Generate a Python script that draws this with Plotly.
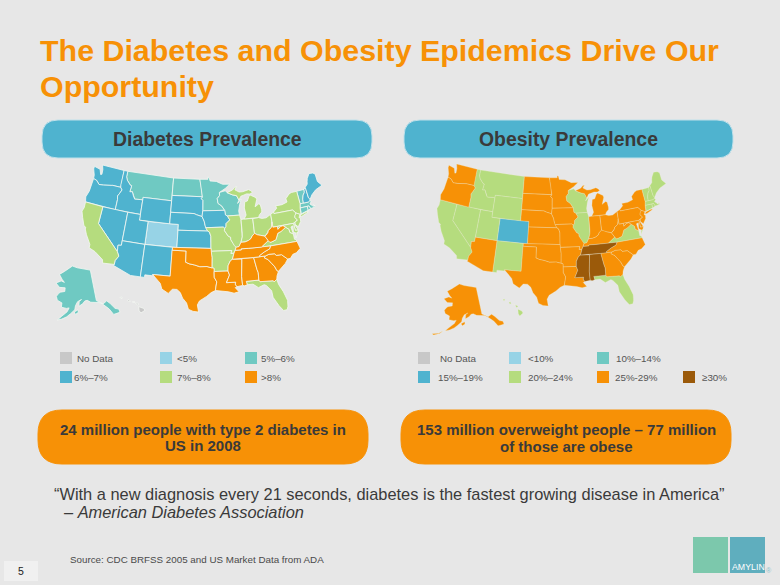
import math
import plotly.graph_objects as go

# ---------- data ----------
TITLE = ["The Diabetes and Obesity Epidemics Drive Our", "Opportunity"]
DIABETES_HEADER = "Diabetes Prevalence"
OBESITY_HEADER = "Obesity Prevalence"
DIABETES_NOTE = ["24 million people with type 2 diabetes in", "US in 2008"]
OBESITY_NOTE = ["153 million overweight people – 77 million", "of those are obese"]
QUOTE_1 = "“With a new diagnosis every 21 seconds, diabetes is the fastest growing disease in America”"
QUOTE_2 = "– <i>American Diabetes Association</i>"
SOURCE = "Source: CDC BRFSS 2005 and US Market Data from ADA"

diabetes_classes = ["No Data", "<5%", "5%–6%", "6%–7%", "7%–8%", ">8%"]
obesity_classes = ["No Data", "<10%", "10%–14%", "15%–19%", "20%–24%", "25%-29%", "≥30%"]

diabetes_states = {
    "No Data": ["HI"],
    "<5%": ["CO"],
    "5%–6%": ["MT", "ND", "MN", "WI", "AK", "VT", "MA", "RI", "CT"],
    "6%–7%": ["WA", "OR", "ID", "WY", "SD", "NE", "IA", "KS", "NV", "UT", "AZ", "NM", "NH", "ME"],
    "7%–8%": ["CA", "MO", "AR", "IL", "IN", "OH", "MI", "NY", "PA", "NJ", "DE", "MD", "VA", "FL"],
    ">8%": ["TX", "OK", "LA", "MS", "AL", "GA", "SC", "NC", "TN", "KY", "WV"],
}
obesity_states = {
    "15%–19%": ["CO"],
    "20%–24%": ["ID", "MT", "WY", "NV", "UT", "CA", "NM", "WI", "IL", "VA", "FL",
                "VT", "NH", "ME", "MA", "CT", "RI", "HI"],
    "25%-29%": ["WA", "OR", "AZ", "ND", "SD", "NE", "KS", "MN", "IA", "MO", "AR", "LA", "OK", "TX",
                "MI", "IN", "OH", "KY", "WV", "GA", "SC", "NC", "NY", "PA", "NJ", "DE", "MD", "AK"],
    "≥30%": ["MS", "AL", "TN"],
}

# state outlines, lon/lat rings
WA = [[(-124.7,48.38),(-123.1,48.15),(-122.6,47.3),(-122.3,47.4),(-122.4,48.2),(-122.8,49),(-117.03,49),(-117.04,46.42),(-116.92,45.99),(-118.98,46),(-119.3,45.93),(-121.2,45.65),(-122.3,45.55),(-122.8,45.9),(-123.2,46.15),(-124,46.27),(-124.1,46.9),(-124.7,47.9)]]
OR = [[(-124,46.27),(-123.2,46.15),(-122.8,45.9),(-122.3,45.55),(-121.2,45.65),(-119.3,45.93),(-118.98,46),(-116.92,45.99),(-116.47,45.6),(-116.85,44.95),(-117.22,44.4),(-117.03,43.8),(-117.03,42),(-124.2,42),(-124.5,42.85),(-124.1,44),(-123.95,45.5)]]
CA = [[(-124.2,42),(-120,42),(-120,39),(-114.63,35),(-114.13,34.27),(-114.72,33.4),(-114.72,32.72),(-117.12,32.53),(-117.3,33.1),(-118.4,33.75),(-119.2,34.15),(-120.6,34.55),(-120.65,35.15),(-121.9,36.6),(-122.5,37.5),(-122.5,37.8),(-123,38),(-123.8,39.3),(-124.35,40.3),(-124.1,41)]]
NV = [[(-120,42),(-114.04,42),(-114.04,36.2),(-114.75,36.1),(-114.63,35),(-120,39)]]
ID = [[(-117.03,49),(-116.05,49),(-116.05,48),(-115.7,47.45),(-114.7,46.7),(-114.35,46.65),(-114.5,45.55),(-113.9,45.65),(-113.45,44.95),(-113,44.45),(-111.5,44.55),(-111.05,44.5),(-111.05,42),(-117.03,42),(-117.03,43.8),(-117.22,44.4),(-116.85,44.95),(-116.47,45.6),(-116.92,45.99),(-117.04,46.42)]]
MT = [[(-116.05,49),(-104.05,49),(-104.05,45),(-111.05,45),(-111.05,44.5),(-111.5,44.55),(-113,44.45),(-113.45,44.95),(-113.9,45.65),(-114.5,45.55),(-114.35,46.65),(-114.7,46.7),(-115.7,47.45),(-116.05,48)]]
WY = [[(-111.05,45),(-104.05,45),(-104.05,41),(-111.05,41)]]
UT = [[(-114.04,42),(-111.05,42),(-111.05,41),(-109.05,41),(-109.05,37),(-114.04,37)]]
CO = [[(-109.05,41),(-102.05,41),(-102.05,37),(-109.05,37)]]
AZ = [[(-114.04,37),(-109.05,37),(-109.05,31.33),(-111.07,31.33),(-114.8,32.5),(-114.72,32.72),(-114.72,33.4),(-114.13,34.27),(-114.63,35),(-114.75,36.1),(-114.04,36.2)]]
NM = [[(-109.05,37),(-103,37),(-103.04,32),(-106.62,32),(-106.53,31.78),(-108.2,31.78),(-108.2,31.33),(-109.05,31.33)]]
ND = [[(-104.05,49),(-97.23,49),(-96.85,47.6),(-96.56,45.94),(-104.05,45.94)]]
SD = [[(-104.05,45.94),(-96.56,45.94),(-96.85,45.6),(-96.45,45.3),(-96.45,43.5),(-96.6,42.5),(-97.9,42.8),(-98.5,43),(-104.05,43)]]
NE = [[(-104.05,43),(-98.5,43),(-97.9,42.8),(-96.6,42.5),(-96.1,41.7),(-95.9,41),(-95.31,40),(-102.05,40),(-102.05,41),(-104.05,41)]]
KS = [[(-102.05,40),(-95.31,40),(-94.9,39.8),(-94.61,39.1),(-94.62,37),(-102.05,37)]]
OK = [[(-103,37),(-94.62,37),(-94.43,35.4),(-94.48,33.64),(-95.5,33.88),(-97,33.85),(-98.1,34.13),(-99.2,34.3),(-100,34.56),(-100,36.5),(-103,36.5)]]
TX = [[(-103.04,36.5),(-100,36.5),(-100,34.56),(-99.2,34.3),(-98.1,34.13),(-97,33.85),(-95.5,33.88),(-94.48,33.64),(-94.04,33.55),(-94.04,31.99),(-93.55,31.2),(-93.75,30.3),(-93.85,29.7),(-94.7,29.35),(-95.6,28.7),(-97,27.9),(-97.4,27.2),(-97.15,25.96),(-98.2,26.05),(-99.1,26.4),(-99.5,27.5),(-100.3,28.3),(-100.8,29.25),(-101.5,29.77),(-102.4,29.77),(-103.15,28.98),(-104.5,29.65),(-104.9,30.6),(-106.53,31.78),(-106.62,32),(-103.04,32)]]
MN = [[(-97.23,49),(-95.15,49),(-95.15,49.38),(-94.8,49.3),(-94.6,48.7),(-93,48.6),(-91.4,48.05),(-89.6,48),(-90.8,47.3),(-92,46.7),(-92.3,46.65),(-92.3,46.1),(-92.9,45.6),(-92.75,44.75),(-91.9,44.3),(-91.22,43.5),(-96.45,43.5),(-96.45,45.3),(-96.85,45.6),(-96.56,45.94),(-96.85,47.6)]]
IA = [[(-96.45,43.5),(-91.22,43.5),(-91.1,42.7),(-90.65,42.5),(-90.15,41.8),(-91.05,41.2),(-91.1,40.7),(-91.42,40.38),(-91.73,40.61),(-95.77,40.58),(-95.9,41),(-96.1,41.7),(-96.6,42.5)]]
MO = [[(-95.77,40.58),(-91.73,40.61),(-91.42,40.38),(-91.5,40),(-90.7,39),(-90.2,38.8),(-90.2,38.4),(-89.5,37.3),(-89.15,37),(-89.4,36.5),(-89.7,36),(-90.37,36),(-90.15,36.5),(-94.62,36.5),(-94.62,37),(-94.61,39.1),(-94.9,39.8),(-95.31,40)]]
AR = [[(-94.62,36.5),(-90.15,36.5),(-90.37,36),(-89.7,36),(-90.1,35),(-90.6,34.7),(-91.1,33.9),(-91.17,33),(-94.04,33),(-94.04,33.55),(-94.48,33.64),(-94.43,35.4)]]
LA = [[(-94.04,33),(-91.17,33),(-90.9,32.3),(-91.6,31),(-89.73,31),(-89.85,30.65),(-89.55,30.2),(-89.9,30.05),(-89.2,29.3),(-90.2,29.1),(-91.3,29.4),(-92.3,29.55),(-93.85,29.7),(-93.75,30.3),(-93.55,31.2),(-94.04,31.99)]]
MS = [[(-90.1,35),(-88.2,35),(-88.1,34.9),(-88.45,31.9),(-88.4,30.35),(-89.55,30.2),(-89.85,30.65),(-89.73,31),(-91.6,31),(-90.9,32.3),(-91.17,33),(-91.1,33.9),(-90.6,34.7)]]
AL = [[(-88.2,35),(-85.6,34.98),(-85.18,32.87),(-85,32.3),(-85.05,31),(-87.6,31),(-87.45,30.4),(-88,30.25),(-88.4,30.35),(-88.45,31.9),(-88.1,34.9)]]
TN = [[(-89.7,36),(-89.4,36.5),(-88.07,36.5),(-88.07,36.68),(-86.5,36.65),(-83.68,36.6),(-81.68,36.59),(-82,36.1),(-83.1,35.75),(-84.3,35.2),(-84.32,34.99),(-85.6,34.98),(-88.2,35),(-90.1,35)]]
KY = [[(-89.4,36.5),(-89.15,37),(-88.5,37.1),(-88,37.8),(-87.1,37.8),(-86.3,38),(-85.7,38.3),(-85.4,38.7),(-84.8,39.1),(-84.2,38.8),(-83.6,38.65),(-82.6,38.4),(-82,37.55),(-83.68,36.6),(-86.5,36.65),(-88.07,36.68),(-88.07,36.5)]]
WV = [[(-82.6,38.4),(-82.2,38.6),(-81.75,39),(-81.7,39.25),(-80.87,39.7),(-80.52,40.64),(-80.52,39.72),(-79.48,39.72),(-79.48,39.2),(-78.8,39.6),(-78.2,39.68),(-77.72,39.32),(-78.35,39),(-78.87,38.76),(-79.65,38.55),(-80.3,37.5),(-81.25,37.25),(-81.68,37.2),(-82,37.55)]]
VA = [[(-83.68,36.6),(-81.68,36.59),(-75.87,36.55),(-76,36.9),(-76.3,37),(-76.3,37.9),(-77,38.3),(-77.05,38.85),(-77.72,39.32),(-78.35,39),(-78.87,38.76),(-79.65,38.55),(-80.3,37.5),(-81.25,37.25),(-81.68,37.2),(-82,37.55)],
      [(-75.65,37.95),(-75.25,38.03),(-75.95,37.15)]]
NC = [[(-84.32,34.99),(-83.1,35),(-82.3,35.2),(-81.05,35.15),(-80.8,34.82),(-79.67,34.8),(-78.55,33.87),(-77.95,33.9),(-77.3,34.5),(-76.5,34.65),(-75.5,35.25),(-75.87,36.55),(-81.68,36.59),(-82,36.1),(-83.1,35.75),(-84.3,35.2)]]
SC = [[(-83.1,35),(-82.3,35.2),(-81.05,35.15),(-80.8,34.82),(-79.67,34.8),(-78.55,33.87),(-79.2,33.2),(-80,32.6),(-80.85,32.05),(-81.15,32.2),(-81.5,33),(-81.95,33.5),(-82.6,34.3),(-83.35,34.7)]]
GA = [[(-85.6,34.98),(-84.32,34.99),(-83.1,35),(-83.35,34.7),(-82.6,34.3),(-81.95,33.5),(-81.5,33),(-81.15,32.2),(-80.85,32.05),(-81.3,31.3),(-81.45,30.72),(-82.05,30.36),(-82.2,30.57),(-84.86,30.7),(-85.05,31),(-85,32.3),(-85.18,32.87)]]
FL = [[(-87.6,31),(-85.05,31),(-84.86,30.7),(-82.2,30.57),(-82.05,30.36),(-81.45,30.72),(-81.25,29.8),(-80.55,28.4),(-80.03,26.8),(-80.15,25.75),(-80.4,25.2),(-81.1,25.15),(-81.8,26.1),(-82.7,27.7),(-82.8,28.9),(-83.7,29.9),(-84.1,30.1),(-85.3,29.7),(-86.3,30.4),(-87.45,30.4)]]
IL = [[(-91.42,40.38),(-91.1,40.7),(-91.05,41.2),(-90.15,41.8),(-90.65,42.5),(-87.8,42.5),(-87.55,41.75),(-87.53,39.35),(-87.6,38.7),(-88,37.8),(-88.5,37.1),(-89.15,37),(-89.5,37.3),(-90.2,38.4),(-90.2,38.8),(-90.7,39),(-91.5,40)]]
WI = [[(-92.3,46.65),(-92,46.7),(-90.8,46.9),(-90.4,46.55),(-89.1,46.1),(-88.1,45.9),(-87.8,45.35),(-87.6,45.1),(-88,44.55),(-87.05,45.25),(-87.55,44.3),(-87.9,43.2),(-87.8,42.5),(-90.65,42.5),(-91.1,42.7),(-91.22,43.5),(-91.9,44.3),(-92.75,44.75),(-92.9,45.6),(-92.3,46.1)]]
IN = [[(-87.53,41.72),(-86.8,41.76),(-84.8,41.7),(-84.8,39.1),(-85.4,38.7),(-85.7,38.3),(-86.3,38),(-87.1,37.8),(-88,37.8),(-87.6,38.7),(-87.53,39.35)]]
OH = [[(-84.8,41.7),(-83.45,41.73),(-82.7,41.5),(-81.7,41.5),(-80.52,41.98),(-80.52,40.64),(-80.87,39.7),(-81.7,39.25),(-81.75,39),(-82.2,38.6),(-82.6,38.4),(-83.6,38.65),(-84.2,38.8),(-84.8,39.1)]]
MI = [[(-86.8,41.76),(-84.8,41.7),(-83.45,41.73),(-83.1,42.2),(-82.5,42.6),(-82.45,43),(-82.6,43.9),(-82.95,44.07),(-83.9,43.65),(-83.3,44.85),(-83.4,45.2),(-84.75,45.78),(-85.1,45.55),(-85.6,44.8),(-86.25,44.7),(-86.5,43.65),(-86.25,42.4)],
      [(-90.4,46.55),(-89,46.95),(-88.4,47.35),(-87.9,47.47),(-88.4,46.95),(-87.4,46.5),(-86.5,46.5),(-85,46.75),(-84.4,46.5),(-84.1,46.2),(-84.75,45.95),(-85.6,46.05),(-86.5,45.85),(-87.05,45.75),(-87.6,45.1),(-87.8,45.35),(-88.1,45.9),(-89.1,46.1)]]
PA = [[(-80.52,41.98),(-79.76,42.27),(-79.76,42),(-75.35,42),(-74.7,41.36),(-75.1,40.95),(-75.2,40.65),(-74.72,40.15),(-75.42,39.8),(-75.79,39.72),(-80.52,39.72),(-80.52,40.64)]]
NY = [[(-79.76,42.27),(-78.9,42.85),(-79.05,43.27),(-77.5,43.27),(-76.2,43.55),(-76.3,44.15),(-75.3,44.85),(-74.7,45),(-73.35,45),(-73.25,43.6),(-73.27,42.75),(-73.5,42.05),(-73.5,41.3),(-73.65,41),(-73.9,41),(-74.7,41.36),(-75.35,42),(-79.76,42)],
      [(-74,40.6),(-73.7,40.9),(-72.3,41.15),(-71.9,41.05),(-73.5,40.6)]]
NJ = [[(-74.7,41.36),(-73.9,41),(-74.25,40.45),(-73.98,40.4),(-74.1,39.75),(-74.9,38.95),(-75.5,39.5),(-75.42,39.8),(-74.72,40.15),(-75.2,40.65),(-75.1,40.95)]]
DE = [[(-75.79,39.72),(-75.42,39.8),(-75.55,39.4),(-75.05,38.45),(-75.7,38.45)]]
MD = [[(-79.48,39.72),(-75.79,39.72),(-75.7,38.45),(-75.05,38.45),(-75.25,38.03),(-75.65,37.95),(-76.2,38.3),(-76,39.3),(-76.5,39.2),(-76.4,38.3),(-76.3,37.9),(-77,38.3),(-77.05,38.85),(-77.72,39.32),(-78.2,39.68),(-78.8,39.6),(-79.48,39.2)]]
CT = [[(-73.5,42.05),(-71.8,42.02),(-71.85,41.32),(-73.65,41),(-73.5,41.3)]]
RI = [[(-71.8,42.02),(-71.38,42.02),(-71.15,41.5),(-71.85,41.32)]]
MA = [[(-73.5,42.05),(-73.27,42.75),(-71.3,42.7),(-70.85,42.87),(-70.6,42.65),(-71.05,42.3),(-70.6,41.95),(-70.5,41.78),(-70,41.8),(-70.25,42.07),(-69.95,41.67),(-70.6,41.55),(-71.15,41.5),(-71.38,42.02),(-71.8,42.02)]]
VT = [[(-73.35,45),(-71.5,45.01),(-71.6,44.5),(-72.05,44.1),(-72.4,43.4),(-72.46,42.73),(-73.27,42.75),(-73.25,43.6)]]
NH = [[(-71.5,45.01),(-71.08,45.3),(-70.98,43.4),(-70.7,43.07),(-70.85,42.87),(-71.3,42.7),(-72.46,42.73),(-72.4,43.4),(-72.05,44.1),(-71.6,44.5)]]
ME = [[(-71.08,45.3),(-70.4,45.75),(-70.25,46.2),(-70,46.7),(-69.25,47.45),(-68.3,47.35),(-67.8,47.07),(-67.8,45.7),(-67,44.85),(-68.8,44.4),(-70,43.75),(-70.7,43.07),(-70.98,43.4)]]
AK = [[(-141,69.65),(-141,60.3),(-137.5,58.9),(-135,59.5),(-133.5,58.4),(-131.8,56.6),(-130,56),(-130,55),(-131.7,55),(-133.5,55),(-135,57),(-136.5,58.1),(-138,59),(-139.7,59.6),(-142.5,60),(-144.5,60.1),(-146.5,60.8),(-148,60.7),(-149.5,59.9),(-151.8,59.2),(-151.5,60.7),(-150,61.2),(-152.5,60.6),(-153.8,59.4),(-154.2,58.2),(-156.5,57),(-158.5,56),(-161,55.2),(-163.3,54.75),(-161.5,55.9),(-158.5,57.5),(-157.5,58.7),(-159,58.5),(-162,58.7),(-162,60),(-165,60.6),(-166,61.7),(-164.8,62.7),(-164,63.1),(-161,63.5),(-161,64.6),(-165,64.5),(-168,65.6),(-164.5,66.5),(-162,66.2),(-164,67),(-166.7,68.35),(-163,69.5),(-160,70.5),(-156.5,71.35),(-152,70.8),(-146,70.2)],
      [(-154.5,57.5),(-152.3,58.2),(-152.2,57.4),(-153.8,56.8)]]
AK_ALEUTIANS = [[(-170,52.9),(-166.5,53.5),(-164.5,54.5),(-166,53.5),(-169,52.6)]]
HI = [[(-156.05,20.25),(-155.1,19.9),(-154.8,19.5),(-155.6,18.95),(-155.95,19.4)],
      [(-156.7,20.95),(-156.3,20.95),(-156,20.75),(-156.35,20.6)],
      [(-158.25,21.55),(-157.95,21.7),(-157.7,21.3),(-158.1,21.3)],
      [(-159.75,22.1),(-159.35,22.2),(-159.35,21.9),(-159.6,21.9)],
      [(-157.3,21.2),(-156.75,21.17),(-157.0,21.08)]]

STATES = dict(WA=WA, OR=OR, CA=CA, NV=NV, ID=ID, MT=MT, WY=WY, UT=UT, CO=CO, AZ=AZ, NM=NM, ND=ND, SD=SD,
              NE=NE, KS=KS, OK=OK, TX=TX, MN=MN, IA=IA, MO=MO, AR=AR, LA=LA, MS=MS, AL=AL, TN=TN, KY=KY,
              WV=WV, VA=VA, NC=NC, SC=SC, GA=GA, FL=FL, IL=IL, WI=WI, IN=IN, OH=OH, MI=MI, PA=PA, NY=NY,
              NJ=NJ, DE=DE, MD=MD, CT=CT, RI=RI, MA=MA, VT=VT, NH=NH, ME=ME, AK=AK, HI=HI)

# ---------- style ----------
BG = "#E7E7E7"
ORANGE = "#F79106"
BLUE = "#4FB3CF"
DARK = "#3A3A3A"
FONT = "Liberation Sans"
colors = {"No Data": "#C8C8C8", "<5%": "#97D3E6", "<10%": "#97D3E6", "5%–6%": "#6FC9C2", "10%–14%": "#6FC9C2",
          "6%–7%": BLUE, "15%–19%": BLUE, "7%–8%": "#B5DC7E", "20%–24%": "#B5DC7E",
          ">8%": ORANGE, "25%-29%": ORANGE, "≥30%": "#9B5A0A"}


def albers(lon, lat, lon0, lat0, p1, p2):
    r = math.radians
    n = (math.sin(r(p1)) + math.sin(r(p2))) / 2
    c = math.cos(r(p1)) ** 2 + 2 * n * math.sin(r(p1))
    rho = lambda la: math.sqrt(c - 2 * n * math.sin(r(la))) / n
    th = n * r(lon - lon0)
    return rho(lat) * math.sin(th), rho(lat0) - rho(lat) * math.cos(th)


def project(outlines, box, params):
    """Albers-project the given outlines and fit them to a pixel box (x0, x1, y0, y1)."""
    raw = {c: [[albers(lo, la, *params) for lo, la in ring] for ring in rings] for c, rings in outlines.items()}
    xs = [p[0] for rs in raw.values() for ring in rs for p in ring]
    ys = [p[1] for rs in raw.values() for ring in rs for p in ring]
    x0, x1, y0, y1 = box
    sx = (x1 - x0) / (max(xs) - min(xs))
    sy = (y1 - y0) / (max(ys) - min(ys))
    return {c: [[(x0 + (p[0] - min(xs)) * sx, y1 - (p[1] - min(ys)) * sy) for p in ring] for ring in rs]
            for c, rs in raw.items()}


LOWER48 = {s: r for s, r in STATES.items() if s not in ("AK", "HI")}
CONUS = (-96, 37.5, 29.5, 45.5)
AK_P = (-154, 50, 55, 65)
HI_P = (-157, 20, 8, 18)


def add_map(fig, class_states, boxes, line_color, line_width, alaska):
    shapes = {}
    shapes.update(project(LOWER48, boxes[0], CONUS))
    shapes.update(project({"AK": alaska}, boxes[1], AK_P))
    shapes.update(project({"HI": HI}, boxes[2], HI_P))
    for cls, codes in class_states.items():
        for code in codes:
            xs, ys = [], []
            for ring in shapes[code]:
                xs += [p[0] for p in ring] + [ring[0][0], None]
                ys += [p[1] for p in ring] + [ring[0][1], None]
            fig.add_trace(go.Scatter(x=xs, y=ys, mode="lines", fill="toself", fillcolor=colors[cls],
                                     line=dict(color=line_color, width=line_width), name=code,
                                     hoverinfo="name", showlegend=False))


fig = go.Figure()
add_map(fig, diabetes_states, [(82, 322, 165, 312), (56, 120, 266, 320), (120, 145, 297, 313)],
        "#F4F7F2", 0.8, AK)
add_map(fig, obesity_states, [(437, 666, 164, 306), (432, 504, 284, 335), (503, 523, 299, 316)],
        "rgba(240,240,215,0.55)", 0.5, AK + AK_ALEUTIANS)

shapes, ann = [], []


def pill(x0, x1, y0, y1, r, fill, line=None):
    p = (f"M{x0+r},{y0} L{x1-r},{y0} Q{x1},{y0} {x1},{y0+r} L{x1},{y1-r} Q{x1},{y1} {x1-r},{y1} "
         f"L{x0+r},{y1} Q{x0},{y1} {x0},{y1-r} L{x0},{y0+r} Q{x0},{y0} {x0+r},{y0} Z")
    shapes.append(dict(type="path", path=p, xref="x", yref="y", fillcolor=fill,
                       line=dict(color=line or fill, width=1), layer="below"))


def text(x, y, s, size, color=DARK, bold=False, anchor="left"):
    ann.append(dict(x=x, y=y, xref="x", yref="y", text=f"<b>{s}</b>" if bold else s, showarrow=False,
                    xanchor=anchor, yanchor="middle", align=anchor, borderpad=0, borderwidth=0,
                    font=dict(family=FONT, size=size, color=color)))


def rect(x0, x1, y0, y1, fill):
    shapes.append(dict(type="rect", x0=x0, x1=x1, y0=y0, y1=y1, xref="x", yref="y",
                       fillcolor=fill, line=dict(width=0), layer="below"))


text(40, 50, TITLE[0], 30.4, ORANGE, bold=True)
text(40, 86, TITLE[1], 30.4, ORANGE, bold=True)

pill(42, 372, 120, 158, 16, BLUE, "#BFE0EA")
pill(404, 733, 120, 158, 16, BLUE, "#BFE0EA")
text(207, 139, DIABETES_HEADER, 19.4, bold=True, anchor="center")
text(568, 139, OBESITY_HEADER, 19.4, bold=True, anchor="center")

pill(38, 368, 410, 464, 24, ORANGE)
pill(401, 731, 410, 464, 24, ORANGE)
text(203, 429, DIABETES_NOTE[0], 15, bold=True, anchor="center")
text(203, 445, DIABETES_NOTE[1], 15, bold=True, anchor="center")
text(566, 429, OBESITY_NOTE[0], 15, bold=True, anchor="center")
text(566, 446, OBESITY_NOTE[1], 15, bold=True, anchor="center")

# legends
for cls, sx, tx, row in zip(diabetes_classes, [60, 160, 245, 60, 160, 245], [77, 177, 261, 74, 177, 261],
                            [358, 358, 358, 377, 377, 377]):
    rect(sx, sx + 12, row - 6, row + 6, colors[cls])
    text(tx, row, cls, 9.8, "#555555")
for cls, sx, tx, row in zip(obesity_classes, [418, 509, 597, 418, 509, 597, 683],
                            [440, 528, 616, 438, 528, 615, 702],
                            [358, 358, 358, 377, 377, 377, 377]):
    rect(sx, sx + 12, row - 6, row + 6, colors[cls])
    text(tx, row, cls, 9.8, "#555555")

text(54, 494, QUOTE_1, 16.4)
text(64, 512, QUOTE_2, 16.4)
text(70, 559, SOURCE, 9.8, "#4A4A4A")

rect(4, 38, 561, 581, "#F0F0F0")
text(21, 571, "5", 10.5, "#222222", anchor="center")

rect(693, 728, 537, 573, "#7CC8AC")
rect(730, 765, 537, 573, "#5FAEBE")
text(748, 567, "AMYLIN", 8.8, "#FFFFFF", anchor="center")
text(769, 570, "®", 7, "#8CC4CE", anchor="center")

fig.update_layout(
    width=780, height=585, margin=dict(l=0, r=0, t=0, b=0),
    paper_bgcolor=BG, plot_bgcolor=BG, showlegend=False,
    xaxis=dict(range=[0, 780], visible=False, fixedrange=True),
    yaxis=dict(range=[585, 0], visible=False, fixedrange=True),
    shapes=shapes, annotations=ann, font=dict(family=FONT),
)
fig.write_html("out.html", config=dict(displayModeBar=False),
               post_script="document.body.style.margin='0';document.body.style.background='#E7E7E7';")
